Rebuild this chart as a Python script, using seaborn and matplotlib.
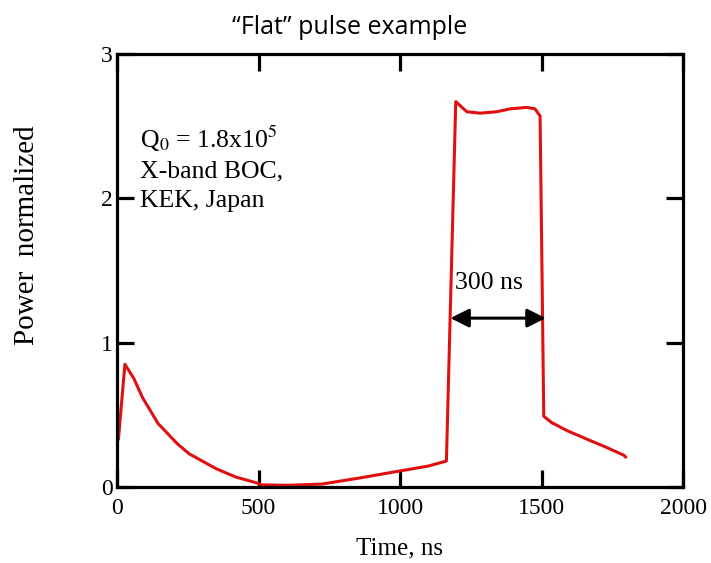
import numpy as np
import pandas as pd
import matplotlib
matplotlib.use("Agg")
import matplotlib.pyplot as plt
import seaborn as sns

# Pulse trace (time in ns, normalized power)
time_ns = [5, 28, 60, 90, 145, 213, 255, 351, 420, 496, 510, 600, 723,
           850, 996, 1100, 1164, 1197, 1236, 1283, 1342, 1389, 1448, 1477,
           1495, 1508, 1536, 1591, 1674, 1729, 1791, 1798]
power = [0.33, 0.85, 0.75, 0.62, 0.44, 0.30, 0.23, 0.126, 0.069, 0.027,
         0.015, 0.012, 0.02, 0.06, 0.11, 0.145, 0.18, 2.67, 2.60, 2.59,
         2.60, 2.62, 2.63, 2.62, 2.57, 0.49, 0.446, 0.39, 0.32, 0.275,
         0.22, 0.206]

x_ticks = [0, 500, 1000, 1500, 2000]
y_ticks = [0, 1, 2, 3]

info_lines = ["Q$_0$ = 1.8x10$^5$", "X-band BOC,", "KEK, Japan"]
pulse_start, pulse_end, arrow_level = 1178, 1515, 1.17

df = pd.DataFrame({"Time, ns": time_ns, "Power": power})

sns.set_style("ticks")
plt.rcParams.update({
    "font.family": ["Liberation Serif", "DejaVu Serif"],
    "mathtext.fontset": "stix",
    "axes.linewidth": 2.3,
    "xtick.direction": "in",
    "ytick.direction": "in",
    "xtick.major.size": 12.5,
    "ytick.major.size": 12.5,
    "xtick.major.width": 2.3,
    "ytick.major.width": 2.3,
})

fig = plt.figure(figsize=(7.11, 5.63), dpi=100)
ax = fig.add_axes([117 / 711, 1 - 487 / 563, (683 - 117) / 711, (487 - 54) / 563])

sns.lineplot(data=df, x="Time, ns", y="Power", color="#e01010", lw=2.2,
             sort=False, ax=ax)

ax.set_xlim(0, 2000)
ax.set_ylim(0, 3)
ax.set_xticks(x_ticks)
ax.set_yticks(y_ticks)
ax.tick_params(axis="both", labelsize=17, top=True, right=True, color="black",
               labelcolor="black")
ax.tick_params(axis="x", pad=8)
ax.tick_params(axis="y", pad=3)
for s in ax.spines.values():
    s.set_color("black")

ax.set_xlabel("Time, ns", fontsize=18, labelpad=13, color="black")
ax.set_ylabel("")
fig.text(27 / 711, 1 - 235 / 563, "Power  normalized", rotation=90,
         fontsize=21, ha="center", va="center", color="black")

# info text block
for i, line in enumerate(info_lines):
    ax.text(81, 2.35 - 0.205 * i, line, fontsize=18.5, va="baseline",
            ha="left", color="black")

# 300 ns arrow
ax.annotate("", xy=(pulse_start, arrow_level), xytext=(pulse_end, arrow_level),
            arrowprops=dict(arrowstyle="<|-|>", color="black", lw=2.2,
                            mutation_scale=28, shrinkA=0, shrinkB=0))
ax.text(pulse_start + 17, 1.37, "300 ns", fontsize=18.5, va="baseline",
        ha="left", color="black")

fig.text(350 / 711, 1 - 27 / 563, "\u201cFlat\u201d pulse example",
         fontsize=18, ha="center", va="center", family=["Open Sans", "DejaVu Sans"],
         color="black")

fig.savefig("out.png", dpi=100)
